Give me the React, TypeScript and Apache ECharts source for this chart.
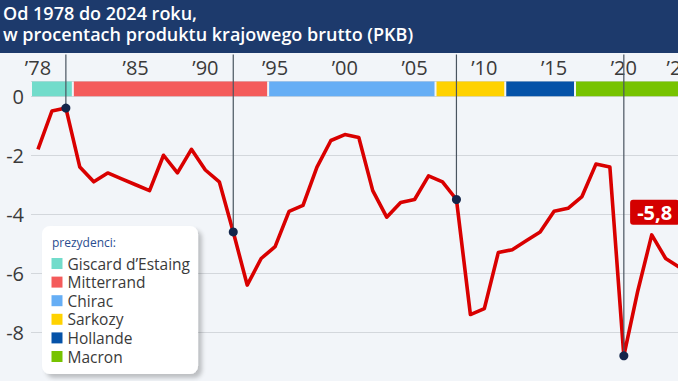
import React, { useEffect, useRef } from "react";
import * as echarts from "echarts";

const years: string[] = Array.from({ length: 47 }, (_, i) => String(1978 + i));

const deficit: number[] = [
  -1.8, -0.5, -0.4, -2.4, -2.9, -2.6, -2.8, -3.0, -3.2, -2.0,
  -2.6, -1.8, -2.5, -2.9, -4.6, -6.4, -5.5, -5.1, -3.9, -3.7,
  -2.4, -1.5, -1.3, -1.4, -3.2, -4.1, -3.6, -3.5, -2.7, -2.9,
  -3.5, -7.4, -7.2, -5.3, -5.2, -4.9, -4.6, -3.9, -3.8, -3.4,
  -2.3, -2.4, -8.8, -6.6, -4.7, -5.5, -5.8,
];

const tickYears: string[] = ["1978", "1985", "1990", "1995", "2000", "2005", "2010", "2015", "2020", "2024"];

const eventYears: string[] = ["1980", "1992", "2008", "2020"];

const presidents: string[] = ["Giscard d’Estaing", "Mitterrand", "Chirac", "Sarkozy", "Hollande", "Macron"];
const presidentStart: string[] = ["1978", "1981", "1995", "2007", "2012", "2017"];
const presidentEnd: string[] = ["1980", "1994", "2006", "2011", "2016", "2024"];
const presidentColors: string[] = ["#72dccb", "#f45b5b", "#66aef5", "#ffd200", "#0552a8", "#77c300"];

const titleLines: string[] = ["Od 1978 do 2024 roku,", "w procentach produktu krajowego brutto (PKB)"];

const FONT = "'Open Sans', 'Noto Sans', sans-serif";

export default function App() {
  const ref = useRef<HTMLDivElement>(null);

  useEffect(() => {
    document.body.style.margin = "0";
    if (!ref.current) return;
    const chart = echarts.init(ref.current, undefined, { renderer: "svg" });

    const bandSeries = presidents.map((name, i) => ({
      type: "custom",
      name,
      z: 2,
      silent: true,
      itemStyle: { color: presidentColors[i] },
      data: [[years.indexOf(presidentStart[i]), years.indexOf(presidentEnd[i])]],
      renderItem: (params: any, api: any) => {
        const s = api.value(0);
        const e = api.value(1);
        const bw = api.size([1, 0])[0];
        const p0 = api.coord([s, 0]);
        const p1 = api.coord([e, 0.5]);
        return {
          type: "rect",
          shape: {
            x: p0[0] - bw / 2 + 1,
            y: p1[1],
            width: p1[0] - p0[0] + bw - 2,
            height: p0[1] - p1[1],
          },
          style: { fill: presidentColors[i] },
        };
      },
    }));

    const lastIdx = deficit.length - 1;
    const lineData = deficit.map((v, i) =>
      i === lastIdx
        ? {
            value: v,
            symbol: "circle",
            symbolSize: 1,
            itemStyle: { color: "rgba(0,0,0,0)" },
            label: {
              show: true,
              position: "top",
              offset: [-25, -37],
              formatter: (p: any) => String(p.value).replace(".", ","),
              color: "#ffffff",
              fontFamily: FONT,
              fontWeight: "bold",
              fontSize: 20,
              lineHeight: 21,
              backgroundColor: "#d40000",
              borderRadius: 3,
              padding: [2, 7],
            },
          }
        : v
    );

    const eventData = eventYears.map((y) => {
      const idx = years.indexOf(y);
      return [idx, deficit[idx]];
    });

    chart.setOption({
      animation: false,
      backgroundColor: "#f2f5f9",
      grid: { left: 31, top: 81.5, width: 655.6, height: 309.75, containLabel: false },
      legend: {
        left: 42,
        top: 226,
        orient: "vertical",
        selectedMode: false,
        icon: "rect",
        itemWidth: 11,
        itemHeight: 11,
        itemGap: 2.6,
        padding: [29.5, 8, 9.5, 9.5],
        backgroundColor: "#ffffff",
        borderRadius: 8,
        shadowColor: "rgba(0,0,0,0.22)",
        shadowBlur: 4,
        shadowOffsetX: 4,
        shadowOffsetY: 4,
        textStyle: { fontFamily: FONT, fontSize: 15.5, color: "#3a3a3a", lineHeight: 16 },
        data: presidents,
      },
      xAxis: {
        type: "category",
        position: "top",
        data: years,
        boundaryGap: true,
        axisLine: { show: false },
        axisTick: { show: false },
        splitLine: { show: false },
        axisLabel: {
          interval: (_i: number, v: string) => tickYears.includes(v),
          formatter: (v: string) => "’" + v.slice(2),
          fontFamily: FONT,
          fontSize: 20,
          color: "#3a3a3a",
          margin: 4,
        },
      },
      yAxis: {
        type: "value",
        min: -10,
        max: 0.5,
        interval: 2,
        axisLine: { show: false },
        axisTick: { show: false },
        splitLine: { lineStyle: { color: "#d3d7dc", width: 1 } },
        axisLabel: {
          showMinLabel: false,
          formatter: (v: number) => (Math.abs(v % 2) < 1e-9 && v > -10 ? String(v) : ""),
          fontFamily: FONT,
          fontSize: 20,
          color: "#3a3a3a",
          margin: 7,
        },
      },
      graphic: [
        {
          type: "rect",
          left: 0,
          top: 0,
          shape: { width: 720, height: 53 },
          style: { fill: "#1d3a6c" },
          z: 10,
        },
        {
          type: "text",
          left: 3,
          top: 2,
          z: 11,
          style: {
            text: titleLines.join("\n"),
            fill: "#ffffff",
            font: `600 18px ${FONT}`,
            lineHeight: 21,
          },
        },
        {
          type: "text",
          left: 52,
          top: 236,
          z: 20,
          style: {
            text: "prezydenci:",
            fill: "#2a4d8f",
            font: `12px ${FONT}`,
          },
        },
      ],
      series: [
        ...bandSeries,
        {
          type: "line",
          name: "deficit",
          z: 3,
          symbol: "none",
          showSymbol: true,
          data: lineData,
          lineStyle: { color: "#d90000", width: 3.6, join: "round" },
          itemStyle: { color: "#d90000" },
          silent: true,
        },
        {
          type: "custom",
          name: "events",
          z: 4,
          silent: true,
          data: eventData,
          renderItem: (params: any, api: any) => {
            const pt = api.coord([api.value(0), api.value(1)]);
            const top = params.coordSys.y - 27;
            return {
              type: "group",
              children: [
                {
                  type: "line",
                  shape: { x1: pt[0], y1: top, x2: pt[0], y2: pt[1] },
                  style: { stroke: "#4a5560", lineWidth: 1.2 },
                },
                {
                  type: "circle",
                  shape: { cx: pt[0], cy: pt[1], r: 4.5 },
                  style: { fill: "#13254a" },
                },
              ],
            };
          },
        },
      ],
    });

    return () => chart.dispose();
  }, []);

  return (
    <div style={{ width: 678, height: 381, overflow: "hidden", position: "relative" }}>
      <div ref={ref} style={{ width: 720, height: 420 }} />
    </div>
  );
}
